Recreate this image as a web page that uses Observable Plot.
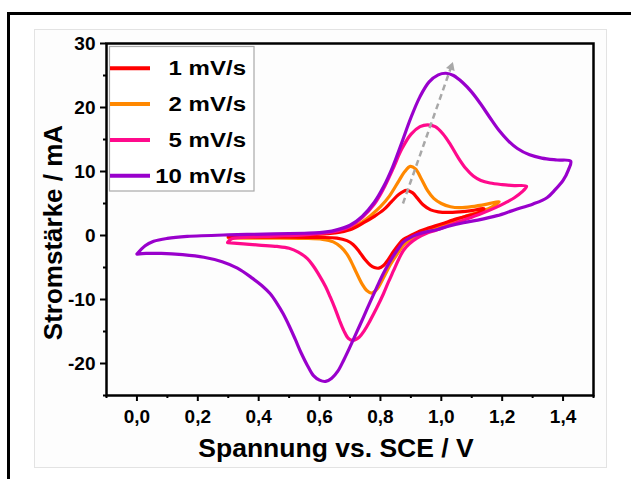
<!DOCTYPE html>
<html>
<head>
<meta charset="utf-8">
<script src="https://cdn.jsdelivr.net/npm/d3@7"></script>
<script src="https://cdn.jsdelivr.net/npm/@observablehq/plot@0.6"></script>
<style>
  html, body { margin: 0; background: #fff; overflow: hidden; }
  #wrap { position: relative; width: 631px; height: 479px; overflow: hidden; font-family: "Liberation Sans", Arial, sans-serif; }
  #outerTop { position: absolute; left: 7px; top: 12px; width: 624px; height: 2.7px; background: #000; }
  #outerLeft { position: absolute; left: 7px; top: 12px; width: 2.7px; height: 467px; background: #000; }
  #inner { position: absolute; left: 34px; top: 29px; width: 573px; height: 439px; border: 1.5px solid #e3e3e3; box-sizing: border-box; background: #fdfdfd; }
  #chart { position: absolute; left: 0; top: 0; }
</style>
</head>
<body>
<div id="wrap"><div id="outerTop"></div><div id="outerLeft"></div><div id="inner"></div><div id="chart"></div></div>
<script>
// ---- data (potential V vs. SCE, current mA) ----
const seriesNames  = ["1 mV/s", "2 mV/s", "5 mV/s", "10 mV/s"];
const seriesColors = ["#ff0000", "#ff8800", "#ff0a8c", "#9900cc"];

const cv1 = [
  [0.30,-0.2],[0.40,0.0],[0.50,0.1],[0.60,0.2],[0.65,0.4],[0.70,0.9],[0.745,2.0],[0.78,3.0],[0.81,4.0],
  [0.835,5.2],[0.86,6.4],[0.885,7.05],[0.905,6.7],[0.922,5.8],[0.94,4.8],[0.965,4.0],[0.99,3.7],[1.02,3.6],
  [1.06,3.7],[1.10,3.9],[1.14,4.2],
  [1.125,3.6],[1.09,3.1],[1.05,2.6],[1.00,1.8],[0.96,1.2],[0.93,0.7],[0.90,0.0],[0.876,-0.6],[0.86,-1.4],
  [0.843,-2.5],[0.825,-3.8],[0.81,-4.7],[0.795,-5.1],[0.78,-5.0],[0.766,-4.6],[0.75,-3.8],[0.73,-2.5],
  [0.71,-1.4],[0.69,-0.8],[0.657,-0.4],[0.60,-0.3],[0.50,-0.25],[0.40,-0.25],[0.30,-0.2]
];
const cv2 = [
  [0.30,-0.35],[0.32,-0.1],[0.40,0.0],[0.50,0.1],[0.60,0.25],[0.65,0.5],[0.70,1.1],[0.74,2.1],[0.77,3.2],
  [0.80,4.5],[0.83,6.2],[0.86,8.5],[0.88,10.0],[0.898,10.8],[0.915,10.4],[0.935,8.8],[0.955,7.0],[0.975,5.8],
  [1.00,5.0],[1.03,4.5],[1.06,4.35],[1.10,4.5],[1.15,4.9],[1.19,5.3],
  [1.175,4.7],[1.155,4.2],[1.12,3.6],[1.073,2.9],[1.02,1.9],[0.97,1.0],[0.935,0.4],[0.905,-0.4],[0.876,-1.5],
  [0.855,-2.9],[0.832,-4.6],[0.81,-6.6],[0.79,-8.3],[0.772,-9.0],[0.755,-8.6],[0.74,-7.6],[0.722,-5.9],
  [0.705,-4.2],[0.69,-2.9],[0.67,-1.8],[0.645,-1.0],[0.61,-0.6],[0.55,-0.45],[0.45,-0.4],[0.35,-0.4],[0.30,-0.35]
];
const cv5 = [
  [0.298,-1.1],[0.31,-0.55],[0.35,-0.3],[0.45,-0.1],[0.55,0.1],[0.62,0.4],[0.66,0.7],[0.70,1.4],[0.74,2.8],
  [0.78,4.9],[0.81,7.3],[0.84,10.3],[0.87,13.5],[0.90,15.8],[0.93,17.0],[0.955,17.3],[0.98,17.0],[1.005,15.9],
  [1.03,14.2],[1.055,12.2],[1.08,10.5],[1.105,9.3],[1.13,8.6],[1.16,8.2],[1.20,7.95],[1.24,7.8],[1.28,7.7],
  [1.265,6.8],[1.24,5.9],[1.21,5.1],[1.18,4.4],[1.13,3.4],[1.073,2.4],[1.02,1.5],[0.98,0.8],[0.95,0.3],
  [0.92,-0.4],[0.895,-1.3],[0.876,-2.3],[0.86,-3.7],[0.843,-5.5],[0.826,-7.3],[0.81,-9.1],[0.788,-11.3],
  [0.766,-13.3],[0.748,-14.8],[0.73,-15.9],[0.71,-16.4],[0.695,-16.1],[0.68,-14.9],[0.665,-13.2],[0.65,-11.3],
  [0.635,-9.6],[0.62,-8.0],[0.60,-6.3],[0.58,-4.8],[0.56,-3.6],[0.53,-2.6],[0.50,-2.0],[0.46,-1.7],[0.40,-1.5],
  [0.35,-1.3],[0.298,-1.1]
];
const cv10 = [
  [0.000,-2.9],[0.027,-1.6],[0.055,-0.9],[0.10,-0.45],[0.165,-0.15],[0.30,0.1],[0.45,0.25],[0.55,0.35],[0.60,0.45],
  [0.65,0.8],[0.70,1.6],[0.74,3.0],[0.78,5.2],[0.81,7.6],[0.84,10.7],[0.87,14.5],[0.90,18.4],[0.93,21.7],
  [0.96,24.0],[0.99,25.1],[1.015,25.35],[1.04,25.0],[1.07,23.9],[1.10,22.4],[1.13,20.5],[1.16,18.4],[1.19,16.4],
  [1.22,14.8],[1.25,13.6],[1.29,12.6],[1.33,12.1],[1.38,11.8],[1.425,11.6],
  [1.418,10.3],[1.40,8.6],[1.375,7.2],[1.347,5.9],[1.30,4.9],[1.24,4.0],[1.183,3.1],[1.12,2.4],[1.073,2.0],
  [1.02,1.4],[0.985,0.9],[0.95,0.55],[0.92,0.15],[0.895,-0.4],[0.876,-1.0],[0.855,-2.3],[0.832,-4.0],[0.81,-5.9],
  [0.788,-8.1],[0.766,-10.4],[0.744,-12.8],[0.722,-15.1],[0.70,-17.4],[0.68,-19.4],[0.66,-21.2],[0.64,-22.3],
  [0.62,-22.8],[0.60,-22.6],[0.58,-21.9],[0.56,-20.3],[0.54,-18.4],[0.52,-16.2],[0.50,-14.1],[0.48,-12.2],
  [0.46,-10.6],[0.438,-9.1],[0.41,-7.8],[0.38,-6.7],[0.33,-5.1],[0.28,-4.1],[0.22,-3.4],[0.15,-3.0],[0.08,-2.8],
  [0.03,-2.8],[0.000,-2.9]
];
const trendArrow = [[0.874, 5.0], [1.038, 27.1]];

const xTicks = [0, 0.2, 0.4, 0.6, 0.8, 1.0, 1.2, 1.4];
const xMinor = [-0.1, 0.1, 0.3, 0.5, 0.7, 0.9, 1.1, 1.3, 1.5];
const yTicks = [-20, -10, 0, 10, 20, 30];
const yMinor = [-25, -15, -5, 5, 15, 25];
const xTitle = "Spannung vs. SCE / V";
const yTitle = "Stromstärke / mA";

const curves = [cv1, cv2, cv5, cv10];
const drawOrder = [1, 0, 2, 3]; // orange, red, pink, purple (purple on top)

const chart = Plot.plot({
  width: 631,
  height: 479,
  marginLeft: 106,
  marginRight: 38,
  marginTop: 43,
  marginBottom: 84,
  style: { fontFamily: "'Liberation Sans', Arial, sans-serif", fontWeight: "bold", color: "#000", background: "transparent", overflow: "hidden" },
  x: { domain: [-0.1, 1.5] },
  y: { domain: [-25, 30] },
  marks: [
    Plot.axisX(xMinor, { tickSize: 3, tickFormat: () => "", label: null, strokeWidth: 2 }),
    Plot.axisX(xTicks, { tickSize: 6, tickPadding: 8, fontSize: 19, tickFormat: d => d.toFixed(1).replace(".", ","), label: null, strokeWidth: 2 }),
    Plot.axisY(yMinor, { tickSize: 3, tickFormat: () => "", label: null, strokeWidth: 2 }),
    Plot.axisY(yTicks, { tickSize: 6, tickPadding: 5, fontSize: 19, tickFormat: d => String(d), label: null, strokeWidth: 2 }),
    ...drawOrder.map(k => Plot.line(curves[k], {
      x: d => d[0], y: d => d[1], stroke: seriesColors[k], strokeWidth: 3.2, curve: d3.curveCatmullRom.alpha(0.5)
    })),
    Plot.link([trendArrow], {
      x1: d => d[0][0], y1: d => d[0][1], x2: d => d[1][0], y2: d => d[1][1],
      stroke: "#a8a8a8", strokeWidth: 2.5, strokeDasharray: "6,4"
    }),
    Plot.dot([trendArrow[1]], {
      x: d => d[0], y: d => d[1], symbol: "triangle", r: 3.4, fill: "#a8a8a8", stroke: "none",
      rotate: 19, dx: -1.7, dy: 4.9
    }),
    Plot.frame({ stroke: "#000", strokeWidth: 2.5 }),
    Plot.text([xTitle], { frameAnchor: "bottom", dx: -14, dy: 61, lineAnchor: "bottom", fontSize: 25, fontWeight: "bold", fill: "#000" }),
    Plot.text([yTitle], { frameAnchor: "left", textAnchor: "middle", rotate: -90, dx: -45, dy: 13, lineAnchor: "bottom", fontSize: 26, fontWeight: "bold", fill: "#000" })
  ]
});
document.getElementById("chart").appendChild(chart);

// slightly widen the x title as in the reference
d3.select(chart).selectAll("text").each(function () {
  if (this.textContent === xTitle) {
    const w = this.getComputedTextLength();
    d3.select(this).attr("textLength", w * 1.06).attr("lengthAdjust", "spacingAndGlyphs");
  }
});

// ---- legend (overlay) ----
const leg = d3.select("#wrap").append("svg")
  .attr("width", 631).attr("height", 479)
  .style("position", "absolute").style("left", "0px").style("top", "0px");
leg.append("rect").attr("x", 109.5).attr("y", 46.5).attr("width", 144.5).attr("height", 144.5)
  .attr("fill", "#fff").attr("stroke", "#a9a9a9").attr("stroke-width", 1.2);
seriesNames.forEach((name, k) => {
  const y = 68.3 + k * 35.8;
  leg.append("line").attr("x1", 110).attr("x2", 150).attr("y1", y).attr("y2", y)
    .attr("stroke", seriesColors[k]).attr("stroke-width", 4);
  const t = leg.append("text").attr("x", 246).attr("y", y + 7).attr("text-anchor", "end")
    .style("font-family", "'Liberation Sans', Arial, sans-serif").style("font-weight", "bold")
    .style("font-size", "20px").attr("fill", "#000").text(name);
  const w = t.node().getComputedTextLength();
  t.attr("textLength", w * 1.2).attr("lengthAdjust", "spacingAndGlyphs");
});
</script>
</body>
</html>
